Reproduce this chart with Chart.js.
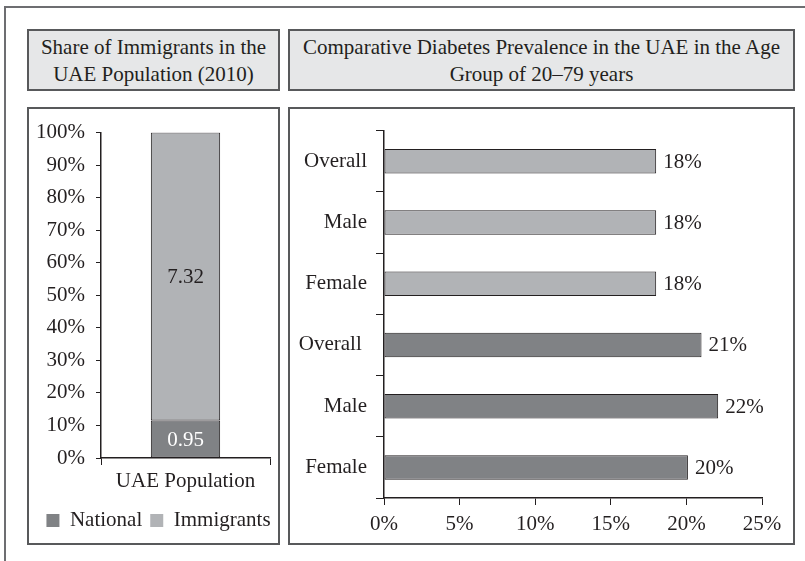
<!DOCTYPE html>
<html>
<head>
<meta charset="utf-8">
<script src="https://cdn.jsdelivr.net/npm/chart.js@4.4.1/dist/chart.umd.min.js"></script>
<style>
  html, body { margin: 0; padding: 0; background: #fff; }
  body { width: 805px; height: 561px; position: relative; overflow: hidden; font-family: "Liberation Serif", "Times New Roman", serif; color: #231f20; }
  .moldura { position: absolute; left: 4px; top: 6px; width: 900px; height: 700px; border-left: 2px solid #6d6e71; border-top: 2px solid #6d6e71; }
  .caixa { position: absolute; box-sizing: border-box; border: 2px solid #58595b; }
  .titulo { background: #e6e7e8; display: flex; align-items: center; justify-content: center; text-align: center; font-size: 21px; line-height: 27px; padding-top: 2px; }
  canvas { position: absolute; }
</style>
</head>
<body>
<div class="moldura"></div>
<div class="caixa titulo" style="left:27px;top:29px;width:253px;height:62px;">Share of Immigrants in the<br>UAE Population (2010)</div>
<div class="caixa titulo" style="left:288px;top:29px;width:507px;height:62px;">Comparative Diabetes Prevalence in the UAE in the Age<br>Group of 20–79 years</div>
<div class="caixa" style="left:27px;top:107px;width:253px;height:438px;"></div>
<div class="caixa" style="left:288px;top:107px;width:507px;height:438px;"></div>
<canvas id="graficoPopulacao" width="249" height="434" style="left:29px;top:109px;"></canvas>
<canvas id="graficoDiabetes" width="503" height="434" style="left:290px;top:109px;"></canvas>
<script>
// Dados: populacao dos EAU (milhoes) e prevalencia de diabetes
const categoriasPop = ["UAE Population"];
const nacionais = [0.95];
const imigrantes = [7.32];

const categoriasDiabetes = ["Overall", "Male", "Female", "Overall ", "Male", "Female"];
const prevalencia = [18, 18, 18, 21, 22.1, 20.1];

const corTexto = "#231f20";
const cinzaClaro = "#b1b3b6";
const cinzaEscuro = "#808285";

Chart.defaults.font.family = '"Liberation Serif", "Times New Roman", serif';
Chart.defaults.font.size = 21;
Chart.defaults.color = corTexto;
Chart.defaults.animation = false;

// percentuais para o grafico empilhado 100%
const totais = nacionais.map((v, i) => v + imigrantes[i]);
const pctNacionais = nacionais.map((v, i) => v / totais[i] * 100);
const pctImigrantes = imigrantes.map((v, i) => v / totais[i] * 100);

const eixoTicks = (len) => ({ drawOnChartArea: false, drawTicks: true, tickLength: len, color: corTexto, lineWidth: 1 });

// rotulos dentro das barras empilhadas (valor original)
const rotulosPop = {
    id: "rotulosPop",
    afterDatasetsDraw(chart) {
        const ctx = chart.ctx;
        ctx.save();
        ctx.font = '21px "Liberation Serif"';
        ctx.textAlign = "center";
        ctx.textBaseline = "middle";
        const brutos = [nacionais, imigrantes];
        const cores = ["#ffffff", corTexto];
        chart.data.datasets.forEach((ds, i) => {
            chart.getDatasetMeta(i).data.forEach((bar, j) => {
                const meio = (bar.y + bar.base) / 2;
                ctx.fillStyle = cores[i];
                ctx.fillText(brutos[i][j].toFixed(2), bar.x, meio + 1);
            });
        });
        ctx.restore();
    }
};

// empurra a legenda um pouco para a direita/baixo
const ajustaLegenda = {
    id: "ajustaLegenda",
    afterLayout(chart) {
        const leg = chart.legend;
        leg.left += 9; leg.right += 9;
        leg.top += 2; leg.bottom += 2;
    }
};

new Chart(document.getElementById("graficoPopulacao").getContext("2d"), {
    type: "bar",
    data: {
        labels: categoriasPop,
        datasets: [
            { label: "National", data: pctNacionais, backgroundColor: cinzaEscuro, borderColor: corTexto, borderWidth: 1, borderSkipped: false, barPercentage: 0.41, categoryPercentage: 1 },
            { label: "Immigrants", data: pctImigrantes, backgroundColor: cinzaClaro, borderColor: corTexto, borderWidth: 1, borderSkipped: false, barPercentage: 0.41, categoryPercentage: 1 }
        ]
    },
    options: {
        responsive: false,
        events: [],
        layout: { padding: { top: 22, right: 8, left: 0, bottom: 4 } },
        scales: {
            x: {
                stacked: true,
                grid: eixoTicks(7),
                border: { color: corTexto, width: 1.5 },
                ticks: { padding: 4, font: { size: 21 } },
                afterFit: (s) => { s.height = 42; }
            },
            y: {
                stacked: true,
                min: 0,
                max: 100,
                grid: eixoTicks(5),
                border: { color: corTexto, width: 1.5 },
                ticks: { stepSize: 10, padding: 11, callback: v => v + "%" },
                afterFit: (s) => { s.width = 72; }
            }
        },
        plugins: {
            tooltip: { enabled: false },
            legend: {
                position: "bottom",
                labels: {
                    boxWidth: 13,
                    boxHeight: 13,
                    padding: 8,
                    generateLabels(chart) {
                        return Chart.defaults.plugins.legend.labels.generateLabels(chart).map(l => ({ ...l, lineWidth: 0 }));
                    }
                }
            }
        }
    },
    plugins: [rotulosPop, ajustaLegenda]
});

// rotulos a direita das barras horizontais
const rotulosDiabetes = {
    id: "rotulosDiabetes",
    afterDatasetsDraw(chart) {
        const ctx = chart.ctx;
        ctx.save();
        ctx.font = '21px "Liberation Serif"';
        ctx.textAlign = "left";
        ctx.textBaseline = "middle";
        ctx.fillStyle = corTexto;
        chart.getDatasetMeta(0).data.forEach((bar, j) => {
            ctx.fillText(Math.round(prevalencia[j]) + "%", bar.x + 7, bar.y + 1);
        });
        ctx.restore();
    }
};

new Chart(document.getElementById("graficoDiabetes").getContext("2d"), {
    type: "bar",
    data: {
        labels: categoriasDiabetes,
        datasets: [
            {
                label: "Prevalence",
                data: prevalencia,
                backgroundColor: [cinzaClaro, cinzaClaro, cinzaClaro, cinzaEscuro, cinzaEscuro, cinzaEscuro],
                borderColor: corTexto,
                borderWidth: 1,
                borderSkipped: false,
                barPercentage: 0.4,
                categoryPercentage: 1
            }
        ]
    },
    options: {
        indexAxis: "y",
        responsive: false,
        events: [],
        layout: { padding: { top: 18, right: 31, left: 0, bottom: 0 } },
        scales: {
            x: {
                min: 0,
                max: 25,
                grid: eixoTicks(7),
                border: { color: corTexto, width: 1.5 },
                ticks: { stepSize: 5, padding: 7, callback: v => v + "%" },
                afterFit: (s) => { s.height = 45; }
            },
            y: {
                grid: eixoTicks(8),
                border: { color: corTexto, width: 1.5 },
                ticks: { padding: 9 },
                afterFit: (s) => { s.width = 94; }
            }
        },
        plugins: {
            tooltip: { enabled: false },
            legend: { display: false }
        }
    },
    plugins: [rotulosDiabetes]
});
</script>
</body>
</html>
